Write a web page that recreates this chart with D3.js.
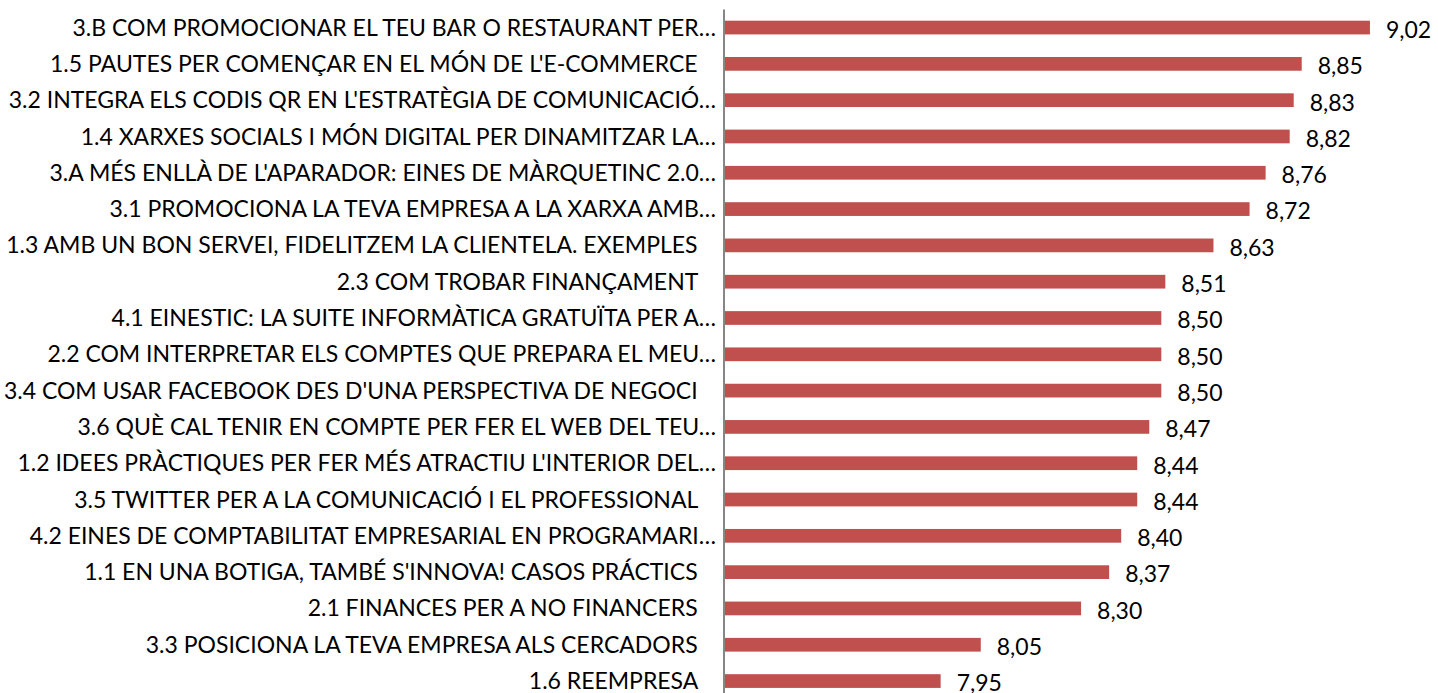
<!DOCTYPE html>
<html>
<head>
<meta charset="utf-8">
<script src="https://cdn.jsdelivr.net/npm/d3@7/dist/d3.min.js"></script>
<style>
  html, body { margin: 0; padding: 0; background: #fff; }
  svg { display: block; }
  text { font-family: Lato, "Open Sans", sans-serif; fill: #000; white-space: pre; }
</style>
</head>
<body>
<svg id="chart" width="1438" height="693"></svg>
<script>
const categories = [
  "3.B COM PROMOCIONAR EL TEU BAR O RESTAURANT PER…",
  "1.5 PAUTES PER COMENÇAR EN EL MÓN DE L'E-COMMERCE ",
  "3.2 INTEGRA ELS CODIS QR EN L'ESTRATÈGIA DE COMUNICACIÓ…",
  "1.4 XARXES SOCIALS I MÓN DIGITAL PER DINAMITZAR LA…",
  "3.A MÉS ENLLÀ DE L'APARADOR: EINES DE MÀRQUETINC 2.0…",
  "3.1 PROMOCIONA LA TEVA EMPRESA A LA XARXA AMB…",
  "1.3 AMB UN BON SERVEI, FIDELITZEM LA CLIENTELA. EXEMPLES ",
  "2.3 COM TROBAR FINANÇAMENT ",
  "4.1 EINESTIC: LA SUITE INFORMÀTICA GRATUÏTA PER A…",
  "2.2 COM INTERPRETAR ELS COMPTES QUE PREPARA EL MEU…",
  "3.4 COM USAR FACEBOOK DES D'UNA PERSPECTIVA DE NEGOCI ",
  "3.6 QUÈ CAL TENIR EN COMPTE PER FER EL WEB DEL TEU…",
  "1.2 IDEES PRÀCTIQUES PER FER MÉS ATRACTIU L'INTERIOR DEL…",
  "3.5 TWITTER PER A LA COMUNICACIÓ I EL PROFESSIONAL ",
  "4.2 EINES DE COMPTABILITAT EMPRESARIAL EN PROGRAMARI…",
  "1.1 EN UNA BOTIGA, TAMBÉ S'INNOVA! CASOS PRÁCTICS ",
  "2.1 FINANCES PER A NO FINANCERS ",
  "3.3 POSICIONA LA TEVA EMPRESA ALS CERCADORS ",
  "1.6 REEMPRESA "
];
const values = [9.02, 8.85, 8.83, 8.82, 8.76, 8.72, 8.63, 8.51, 8.50, 8.50, 8.50, 8.47, 8.44, 8.44, 8.40, 8.37, 8.30, 8.05, 7.95];
const axisDomain = [7.41, 9.2];

const svg = d3.select("#chart");
const axisX = 724;
const x = d3.scaleLinear().domain(axisDomain).range([axisX, axisX + (axisDomain[1] - axisDomain[0]) * 401.2]);
const y = d3.scaleBand().domain(categories).range([9.4, 699.2]).paddingInner(0.622).paddingOuter(0.311);

const fmt = v => d3.format(".2f")(v).replace(".", ",");

svg.append("g").selectAll("rect").data(values).join("rect")
  .attr("x", axisX + 1)
  .attr("y", (d, i) => y(categories[i]))
  .attr("width", d => x(d) - axisX - 1)
  .attr("height", y.bandwidth())
  .attr("fill", "#C0504D");

const yAxis = d3.axisLeft(y).tickSize(0).tickPadding(8);
const ga = svg.append("g").attr("transform", `translate(${axisX},0)`).call(yAxis);
ga.select(".domain").attr("stroke", "#868686").attr("stroke-width", 2).attr("d", `M0,9.4V693`);
ga.selectAll("text")
  .attr("font-family", "Lato").attr("font-size", 23).attr("fill", "#000").attr("dy", "0.35em")
  .attr("dx", d => /\s$/.test(d) ? -12.5 : 0)
  .style("white-space", "pre");

svg.append("g").selectAll("text").data(values).join("text")
  .attr("x", d => x(d) + 16)
  .attr("y", (d, i) => y(categories[i]) + y.bandwidth() / 2)
  .attr("dy", "0.45em")
  .attr("font-size", 23)
  .text(d => fmt(d));
</script>
</body>
</html>
